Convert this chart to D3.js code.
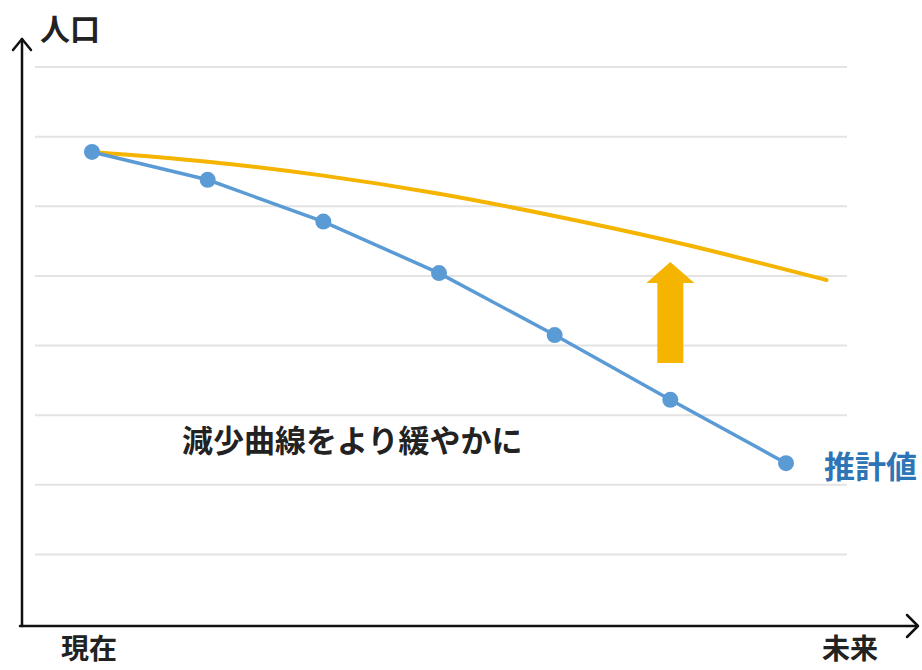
<!DOCTYPE html>
<html>
<head>
<meta charset="utf-8">
<script src="https://cdn.jsdelivr.net/npm/d3@7"></script>
<style>
  body { margin: 0; background: #fff; }
  svg text { font-family: "Noto Sans CJK JP", "Noto Sans", sans-serif; font-weight: 700; }
</style>
</head>
<body>
<svg id="chart" width="922" height="670"></svg>
<script>
// Data (arbitrary population units)
const steps = [0, 1, 2, 3, 4, 5, 6];
const estimate = [6.78, 6.38, 5.78, 5.04, 4.15, 3.22, 2.31];
const goalSteps = [0, 1, 2, 3, 4, 5, 6, 6.35];
const goal = [6.78, 6.64, 6.44, 6.18, 5.86, 5.50, 5.09, 4.94];
const gridTicks = [1, 2, 3, 4, 5, 6, 7, 8];
const arrowStep = 5;
const arrowRange = [3.75, 5.2];

const svg = d3.select("#chart");

const blue = "#5B9BD5";
const gold = "#F4B400";

// Scales
const x = d3.scaleLinear().domain([0, 6]).range([92, 786]);
const y = d3.scaleLinear().domain([0, 8]).range([624, 67]);

// Gridlines
svg.append("g")
    .selectAll("line")
    .data(gridTicks)
    .join("line")
    .attr("x1", 35)
    .attr("x2", 847)
    .attr("y1", d => y(d))
    .attr("y2", d => y(d))
    .attr("stroke", "#e3e3e3")
    .attr("stroke-width", 2);

// Axes with open arrowheads
const axis = svg.append("g")
    .attr("fill", "none")
    .attr("stroke", "#111")
    .attr("stroke-width", 2.5)
    .attr("stroke-linecap", "round")
    .attr("stroke-linejoin", "round");
axis.append("path").attr("d", "M22,626 V39");
axis.append("path").attr("d", "M13,50 L22,39 L31,50");
axis.append("path").attr("d", "M20,626 H917");
axis.append("path").attr("d", "M907,615 L918,626 L907,637");

// Goal curve (gentler decline)
const goalLine = d3.line()
    .x((d, i) => x(goalSteps[i]))
    .y(d => y(d))
    .curve(d3.curveMonotoneX);
svg.append("path")
    .datum(goal)
    .attr("d", goalLine)
    .attr("fill", "none")
    .attr("stroke", gold)
    .attr("stroke-width", 4)
    .attr("stroke-linecap", "round");

// Estimate line
const estLine = d3.line()
    .x((d, i) => x(steps[i]))
    .y(d => y(d));
svg.append("path")
    .datum(estimate)
    .attr("d", estLine)
    .attr("fill", "none")
    .attr("stroke", blue)
    .attr("stroke-width", 3.5);

svg.append("g")
    .selectAll("circle")
    .data(estimate)
    .join("circle")
    .attr("cx", (d, i) => x(steps[i]))
    .attr("cy", d => y(d))
    .attr("r", 8)
    .attr("fill", blue);

// Upward arrow
const ax = x(arrowStep);
const yb = y(arrowRange[0]);
const yt = y(arrowRange[1]);
const headH = 21, shaftW = 13, headW = 24;
svg.append("path")
    .attr("d", `M${ax - shaftW},${yb} V${yt + headH} H${ax - headW} L${ax},${yt} L${ax + headW},${yt + headH} H${ax + shaftW} V${yb} Z`)
    .attr("fill", gold);

// Labels
svg.append("text").attr("x", 40).attr("y", 40).attr("font-size", 30).attr("fill", "#222").text("人口");
svg.append("text").attr("x", 61).attr("y", 659).attr("font-size", 28).attr("fill", "#222").text("現在");
svg.append("text").attr("x", 822).attr("y", 659).attr("font-size", 28).attr("fill", "#222").text("未来");
svg.append("text").attr("x", 182).attr("y", 452).attr("font-size", 31).attr("fill", "#222").text("減少曲線をより緩やかに");
svg.append("text").attr("x", 824).attr("y", 478).attr("font-size", 31).attr("fill", "#2E75B6").text("推計値");
</script>
</body>
</html>
